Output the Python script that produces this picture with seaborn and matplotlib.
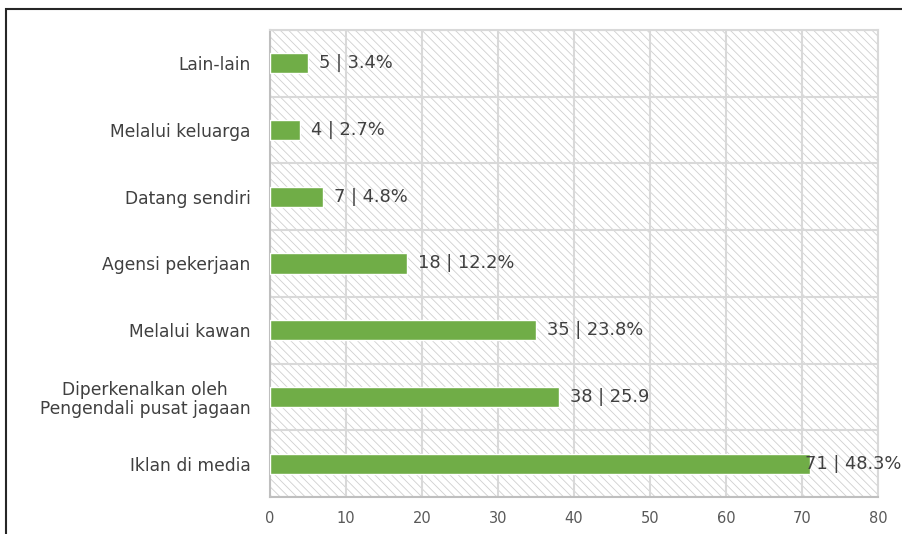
import matplotlib
matplotlib.use("Agg")
import matplotlib.pyplot as plt
import matplotlib.patches as mpatches
import numpy as np
import pandas as pd
import seaborn as sns

# data
categories = ['Lain-lain', 'Melalui keluarga', 'Datang sendiri', 'Agensi pekerjaan',
              'Melalui kawan', 'Diperkenalkan oleh\nPengendali pusat jagaan', 'Iklan di media']
counts = [5, 4, 7, 18, 35, 38, 71]
bar_labels = ['5 | 3.4%', '4 | 2.7%', '7 | 4.8%', '18 | 12.2%',
              '35 | 23.8%', '38 | 25.9', '71 | 48.3%']
xticks = [0, 10, 20, 30, 40, 50, 60, 70, 80]

df = pd.DataFrame({'Sumber': categories, 'Bilangan': counts})

sns.set_style("white")
plt.rcParams['font.family'] = ['DejaVu Sans']
plt.rcParams['hatch.linewidth'] = 0.6
plt.rcParams['hatch.color'] = '#d0d0d0'

fig = plt.figure(figsize=(9.03, 5.34), dpi=100)
ax = fig.add_axes([270/903, 1 - 497/534, (878 - 270)/903, (497 - 30)/534])

# hatched background of plot area
ax.set_facecolor('white')
bg = mpatches.Rectangle((0, 0), 1, 1, transform=ax.transAxes, facecolor='white',
                        edgecolor='#d0d0d0', hatch='\\\\\\\\', lw=0, zorder=0)
ax.add_patch(bg)

sns.barplot(data=df, x='Bilangan', y='Sumber', orient='h', color='#70AD47',
            width=0.3, saturation=1, ax=ax, zorder=3)

ax.set_xlim(0, 80)
ax.set_ylim(len(categories) - 0.5, -0.5)
ax.set_xticks(xticks)
ax.set_xlabel('')
ax.set_ylabel('')

# grid
ax.set_yticks(np.arange(-0.5, len(categories), 1), minor=True)
ax.grid(axis='x', which='major', color='#d9d9d9', lw=1.5, zorder=1)
ax.grid(axis='y', which='minor', color='#d9d9d9', lw=1.5, zorder=1)
ax.set_axisbelow(True)

ax.tick_params(axis='y', which='major', length=0, pad=14, labelsize=12.3, labelcolor='#404040')
ax.tick_params(axis='y', which='minor', length=6, color='#bfbfbf', width=1.2)
ax.tick_params(axis='x', length=0, pad=10, labelsize=10.5, labelcolor='#595959')
for t in ax.get_yticklabels():
    t.set_multialignment('center')
    t.set_linespacing(1.1)

for side in ['left', 'bottom']:
    ax.spines[side].set_color('#bfbfbf')
    ax.spines[side].set_linewidth(1.5)
for side in ['top', 'right']:
    ax.spines[side].set_color('#d9d9d9')
    ax.spines[side].set_linewidth(1.5)

# value labels
for i, (v, lab) in enumerate(zip(counts, bar_labels)):
    off = -5 if v == max(counts) else 11
    ax.annotate(lab, (v, i), xytext=(off, 0), textcoords='offset pixels',
                va='center', ha='left', fontsize=12.9, color='#404040',
                zorder=5, annotation_clip=False)

# frame around chart
frame = mpatches.Rectangle((6/903, -0.1), 1.2, 1 - 9/534 + 0.1, transform=fig.transFigure,
                           fill=False, edgecolor='#262626', lw=1.5)
fig.patches.append(frame)

fig.savefig('out.png', dpi=100)
